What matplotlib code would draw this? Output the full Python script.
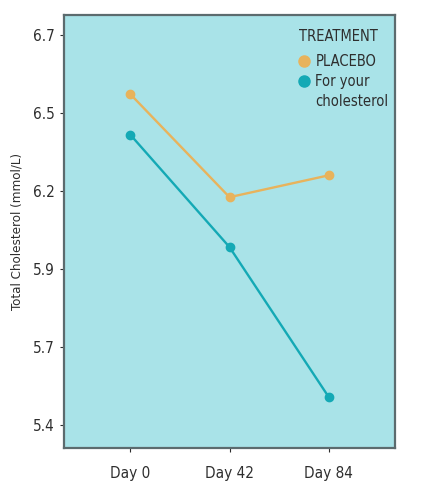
import matplotlib
matplotlib.use("Agg")
import matplotlib.pyplot as plt
from matplotlib.lines import Line2D

# Data
days = ["Day 0", "Day 42", "Day 84"]
placebo = [6.51, 6.18, 6.25]
treated = [6.38, 6.02, 5.54]
series_names = ["PLACEBO", "For your", "cholesterol"]
ytick_values = [5.45, 5.7, 5.95, 6.2, 6.45, 6.7]
ytick_labels = ["5.4", "5.7", "5.9", "6.2", "6.5", "6.7"]

plt.rcParams['font.family'] = ['DejaVu Sans']
plt.rcParams['font.stretch'] = 'condensed'

orange = "#e8b35c"
teal = "#14a9b5"
edge = "#5c6b6e"
txt = "#2e2e2e"

fig = plt.figure(figsize=(4.25, 4.9), dpi=100)
ax = fig.add_axes([0.1506, 0.0857, 0.7788, 0.8837])
ax.set_facecolor("#a9e3e8")

x = range(len(days))
ax.plot(x, placebo, color=orange, lw=1.7, marker="o", ms=6)
ax.plot(x, treated, color=teal, lw=1.7, marker="o", ms=6)

ax.set_xlim(-0.67, 2.67)
ax.set_ylim(5.376, 6.764)
ax.set_xticks(list(x))
ax.set_xticklabels(days)
ax.set_yticks(ytick_values)
ax.set_yticklabels(ytick_labels)
ax.tick_params(axis="both", labelsize=11, colors=txt, length=3, width=0.8)
ax.tick_params(axis="x", pad=10)
ax.set_ylabel("Total Cholesterol (mmol/L)", fontsize=9.5, color=txt, labelpad=7)

for s in ax.spines.values():
    s.set_color(edge)
    s.set_linewidth(1.6)

# legend: third entry carries the second line of the label
handles = [Line2D([], [], ls="none", marker="o", ms=8, color=orange),
           Line2D([], [], ls="none", marker="o", ms=8, color=teal),
           Line2D([], [], ls="none")]
leg = ax.legend(handles, series_names, title="TREATMENT", loc="upper left",
                bbox_to_anchor=(0.693, 0.982), frameon=False, fontsize=10.5,
                title_fontsize=10.5, handlelength=0.6, handletextpad=0.5,
                labelspacing=0.35, borderaxespad=0, alignment="left")
leg._legend_box.sep = 7.5
for t in leg.get_texts():
    t.set_color(txt)
leg.get_title().set_color(txt)

fig.savefig("out.png", dpi=100)
